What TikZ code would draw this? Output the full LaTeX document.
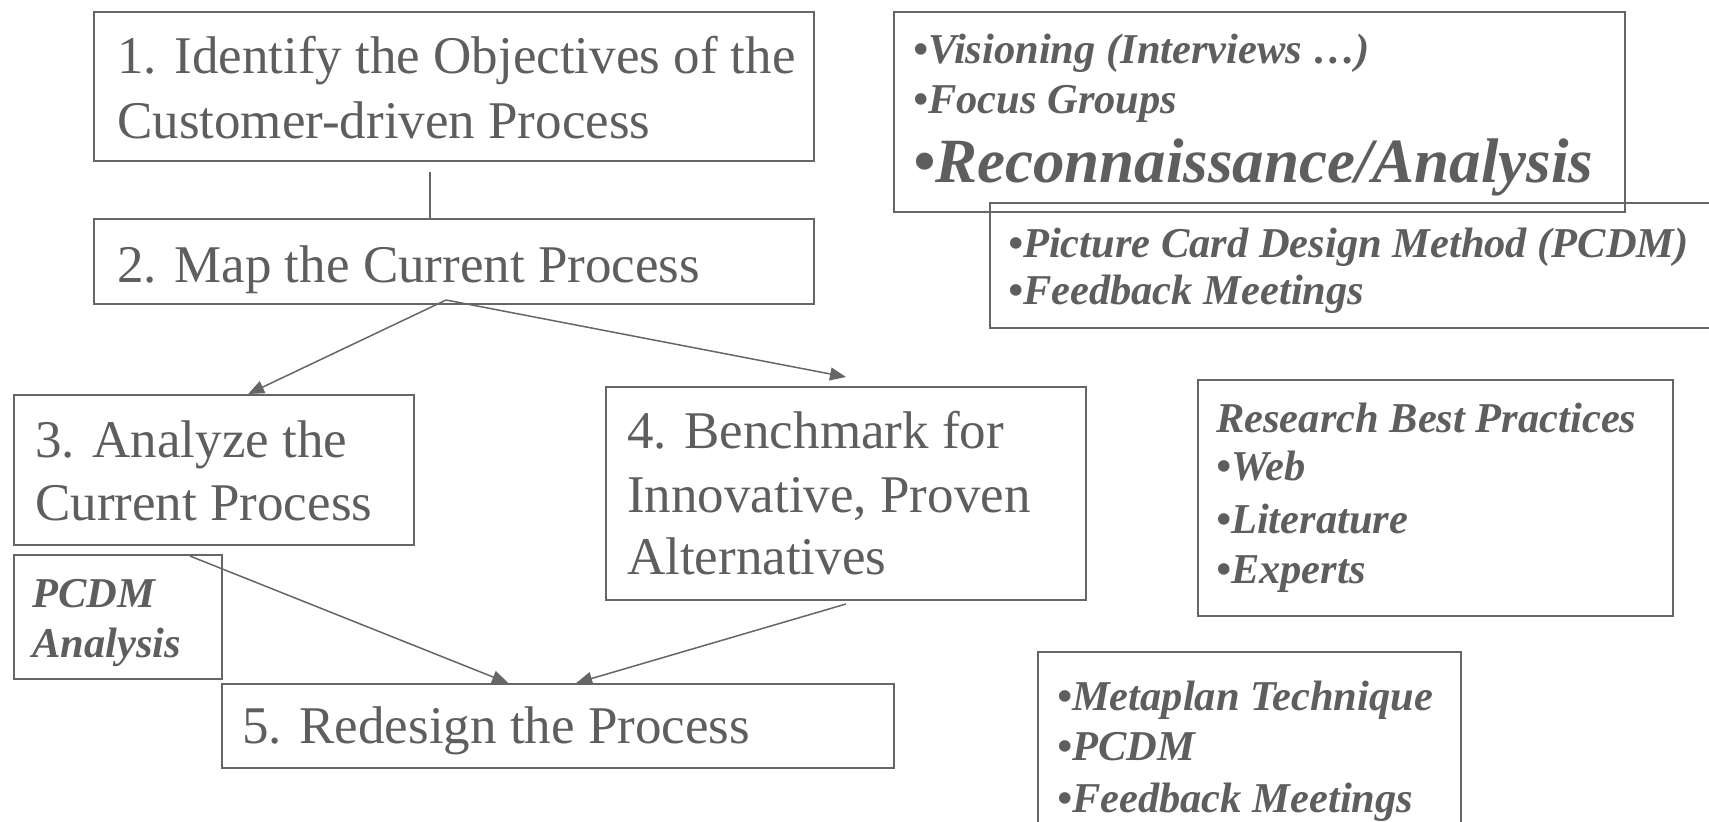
\documentclass[tikz,border=0pt]{standalone}
\usepackage{fontspec}
\setmainfont{Liberation Serif}
\usetikzlibrary{calc,arrows.meta}
\definecolor{ink}{HTML}{5E5E5E}
\definecolor{rule}{HTML}{666666}

\begin{document}
\begin{tikzpicture}[x=1pt,y=-1pt,
  box/.style={draw=rule, line width=2pt, rectangle, inner sep=0pt, anchor=north west},
  main/.style={text=ink, anchor=base west, inner sep=0pt, font=\fontsize{53}{60}\selectfont},
  note/.style={text=ink, anchor=base west, inner sep=0pt, font=\fontsize{42.5}{50}\selectfont\bfseries\itshape},
  big/.style={note, font=\fontsize{63}{70}\selectfont\bfseries\itshape},
  link/.style={draw=rule, line width=1.5pt},
  flow/.style={link, -{Triangle[length=16pt,width=13pt]}},
]
\clip (0,0) rectangle (1709,822);
\fill[white] (0,0) rectangle (1709,822);

% process steps
\node[box, minimum width=720pt, minimum height=149pt] (b1) at (93,11) {};
\node[main] (b1a) at (117,73) {1. Identify the Objectives of the};
\node[main] (b1b) at (117,138) {Customer-driven Process};

\node[box, minimum width=720pt, minimum height=85pt] (b2) at (93,218) {};
\node[main] (b2a) at (117,282) {2. Map the Current Process};

\node[box, minimum width=400pt, minimum height=150pt] (b3) at (13,394) {};
\node[main] (b3a) at (35,457) {3. Analyze the};
\node[main] (b3b) at (35,520) {Current Process};

\node[box, minimum width=208pt, minimum height=124pt] (pc) at (13,554) {};
\node[note] (pca) at (32,607) {PCDM};
\node[note] (pcb) at (32,657) {Analysis};

\node[box, minimum width=480pt, minimum height=213pt] (b4) at (605,386) {};
\node[main] (b4a) at (627,448) {4. Benchmark for};
\node[main] (b4b) at (627,512) {Innovative, Proven};
\node[main] (b4c) at (627,574) {Alternatives};

\node[box, minimum width=672pt, minimum height=84pt] (b5) at (221,683) {};
\node[main] (b5a) at (242,743) {5. Redesign the Process};

% method notes
\node[box, minimum width=731pt, minimum height=200pt] (na) at (893,11) {};
\node[note] (na1) at (913,63) {•Visioning (Interviews …)};
\node[note] (na2) at (913,113) {•Focus Groups};
\node[big]  (na3) at (913,182) {•Reconnaissance/Analysis};

\node[box, minimum width=741pt, minimum height=125pt] (nb) at (989,202) {};
\node[note] (nb1) at (1008,257) {•Picture Card Design Method (PCDM)};
\node[note] (nb2) at (1008,304) {•Feedback Meetings};

\node[box, minimum width=475pt, minimum height=236pt] (nc) at (1197,379) {};
\node[note] (nc1) at (1216,432) {Research Best Practices};
\node[note] (nc2) at (1216,480) {•Web};
\node[note] (nc3) at (1216,533) {•Literature};
\node[note] (nc4) at (1216,583) {•Experts};

\node[box, minimum width=423pt, minimum height=189pt] (nd) at (1037,651) {};
\node[note] (nd1) at (1057,710) {•Metaplan Technique};
\node[note] (nd2) at (1057,760) {•PCDM};
\node[note] (nd3) at (1057,812) {•Feedback Meetings};

% connectors
\draw[link] ($(b1.south west)!0.467!(b1.south east)+(0,10)$) -- ($(b2.north west)!0.467!(b2.north east)$);
\coordinate (b2out) at ($(b2.south west)!0.489!(b2.south east)+(0,-5)$);
\draw[flow] (b2out) -- ($(b3.north west)!0.585!(b3.north east)$);
\draw[flow] (b2out) -- ($(b4.north)+(0,-9)$);
\draw[flow] ($(b3.south west)!0.44!(b3.south east)+(0,10)$) -- ($(b5.north west)!0.426!(b5.north east)$);
\draw[flow] ($(b4.south)+(0,3)$) -- ($(b5.north west)!0.527!(b5.north east)$);
\end{tikzpicture}
\end{document}
